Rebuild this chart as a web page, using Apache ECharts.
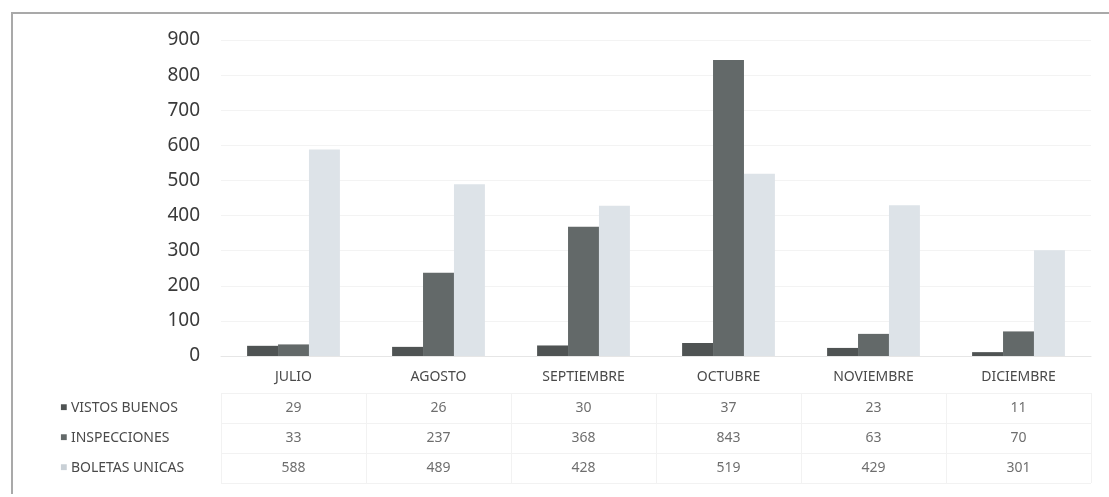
<!DOCTYPE html>
<html>
<head>
<meta charset="utf-8">
<script src="https://cdn.jsdelivr.net/npm/echarts@6/dist/echarts.min.js"></script>
<style>
	html, body { margin: 0; padding: 0; background: #fff; }
	#chart01 { position: absolute; left: 0; top: 0; width: 1109px; height: 497px; }
	#frame { position: absolute; left: 11px; top: 12px; width: 1110px; height: 480px;
		border-left: 2px solid #a9a9a9; border-top: 2px solid #a9a9a9; pointer-events: none; }
</style>
</head>
<body>
<div id="chart01"></div>
<div id="frame"></div>
<script>
// 월 구분
const months = ['JULIO', 'AGOSTO', 'SEPTIEMBRE', 'OCTUBRE', 'NOVIEMBRE', 'DICIEMBRE'];
// 시리즈명
const seriesNames = ['VISTOS BUENOS', 'INSPECCIONES', 'BOLETAS UNICAS'];
// 값
const vistosBuenos = [29, 26, 30, 37, 23, 11];
const inspecciones = [33, 237, 368, 843, 63, 70];
const boletasUnicas = [588, 489, 428, 519, 429, 301];
const yTicks = [0, 100, 200, 300, 400, 500, 600, 700, 800, 900];

const colors = ['#4f5353', '#636969', '#dde3e8'];
const allValues = [vistosBuenos, inspecciones, boletasUnicas];
const fontName = '"Noto Sans", sans-serif';

// 데이터테이블 셀 (x: 월 index, y: 행 index)
const tableCells = [];
allValues.forEach((arr, r) => {
	arr.forEach((v, c) => tableCells.push([c, r, v]));
});

const option = {
	animation: false,
	color: colors,
	grid: [
		{ left: 221, right: 18, top: 40, bottom: 141 },
		{ left: 221, right: 18, top: 393, bottom: 14 }
	],
	xAxis: [
		{
			type: 'category',
			gridIndex: 0,
			data: months,
			axisTick: { show: false },
			axisLine: { show: true, lineStyle: { color: '#e6e6e6' } },
			axisLabel: { color: '#4a4a4a', fontSize: 14, fontFamily: fontName, margin: 14 }
		},
		{
			type: 'category',
			gridIndex: 1,
			data: months,
			axisTick: { show: false },
			axisLine: { show: false },
			axisLabel: { show: false },
			splitLine: { show: true, lineStyle: { color: '#f2f2f2' } }
		}
	],
	yAxis: [
		{
			type: 'value',
			gridIndex: 0,
			min: yTicks[0],
			max: yTicks[yTicks.length - 1],
			interval: 100,
			axisLine: { show: false },
			axisTick: { show: false },
			axisLabel: { color: '#3a3a3a', fontSize: 19, fontFamily: fontName, margin: 21 },
			splitLine: { show: true, lineStyle: { color: '#f3f3f3' } }
		},
		{
			type: 'category',
			gridIndex: 1,
			data: seriesNames,
			inverse: true,
			axisTick: { show: false },
			axisLine: { show: false },
			splitLine: { show: true, interval: 0, lineStyle: { color: '#f2f2f2' } },
			axisLabel: {
				align: 'left',
				margin: 161,
				color: '#4a4a4a',
				fontSize: 14,
				fontFamily: fontName,
				formatter: function(value, idx) {
					return '{s' + idx + '|■} ' + value;
				},
				rich: {
					s0: { color: colors[0], fontSize: 12 },
					s1: { color: colors[1], fontSize: 12 },
					s2: { color: '#c9d0d6', fontSize: 12 }
				}
			}
		}
	],
	series: [
		{
			name: seriesNames[0],
			type: 'bar',
			xAxisIndex: 0,
			yAxisIndex: 0,
			data: vistosBuenos,
			barGap: '0%',
			barCategoryGap: '36%'
		},
		{
			name: seriesNames[1],
			type: 'bar',
			xAxisIndex: 0,
			yAxisIndex: 0,
			data: inspecciones,
			barGap: '0%',
			barCategoryGap: '36%'
		},
		{
			name: seriesNames[2],
			type: 'bar',
			xAxisIndex: 0,
			yAxisIndex: 0,
			data: boletasUnicas,
			barGap: '0%',
			barCategoryGap: '36%'
		},
		// 데이터테이블 값
		{
			type: 'scatter',
			xAxisIndex: 1,
			yAxisIndex: 1,
			data: tableCells,
			symbolSize: 1,
			itemStyle: { color: 'rgba(0,0,0,0)' },
			label: {
				show: true,
				position: 'inside',
				color: '#4a4a4a',
				fontSize: 14,
				fontFamily: fontName,
				formatter: function(p) { return p.value[2]; }
			}
		}
	]
};

const myChart = echarts.init(document.getElementById('chart01'), null, { renderer: 'canvas' });
myChart.setOption(option);
window.addEventListener('resize', myChart.resize);
</script>
</body>
</html>
